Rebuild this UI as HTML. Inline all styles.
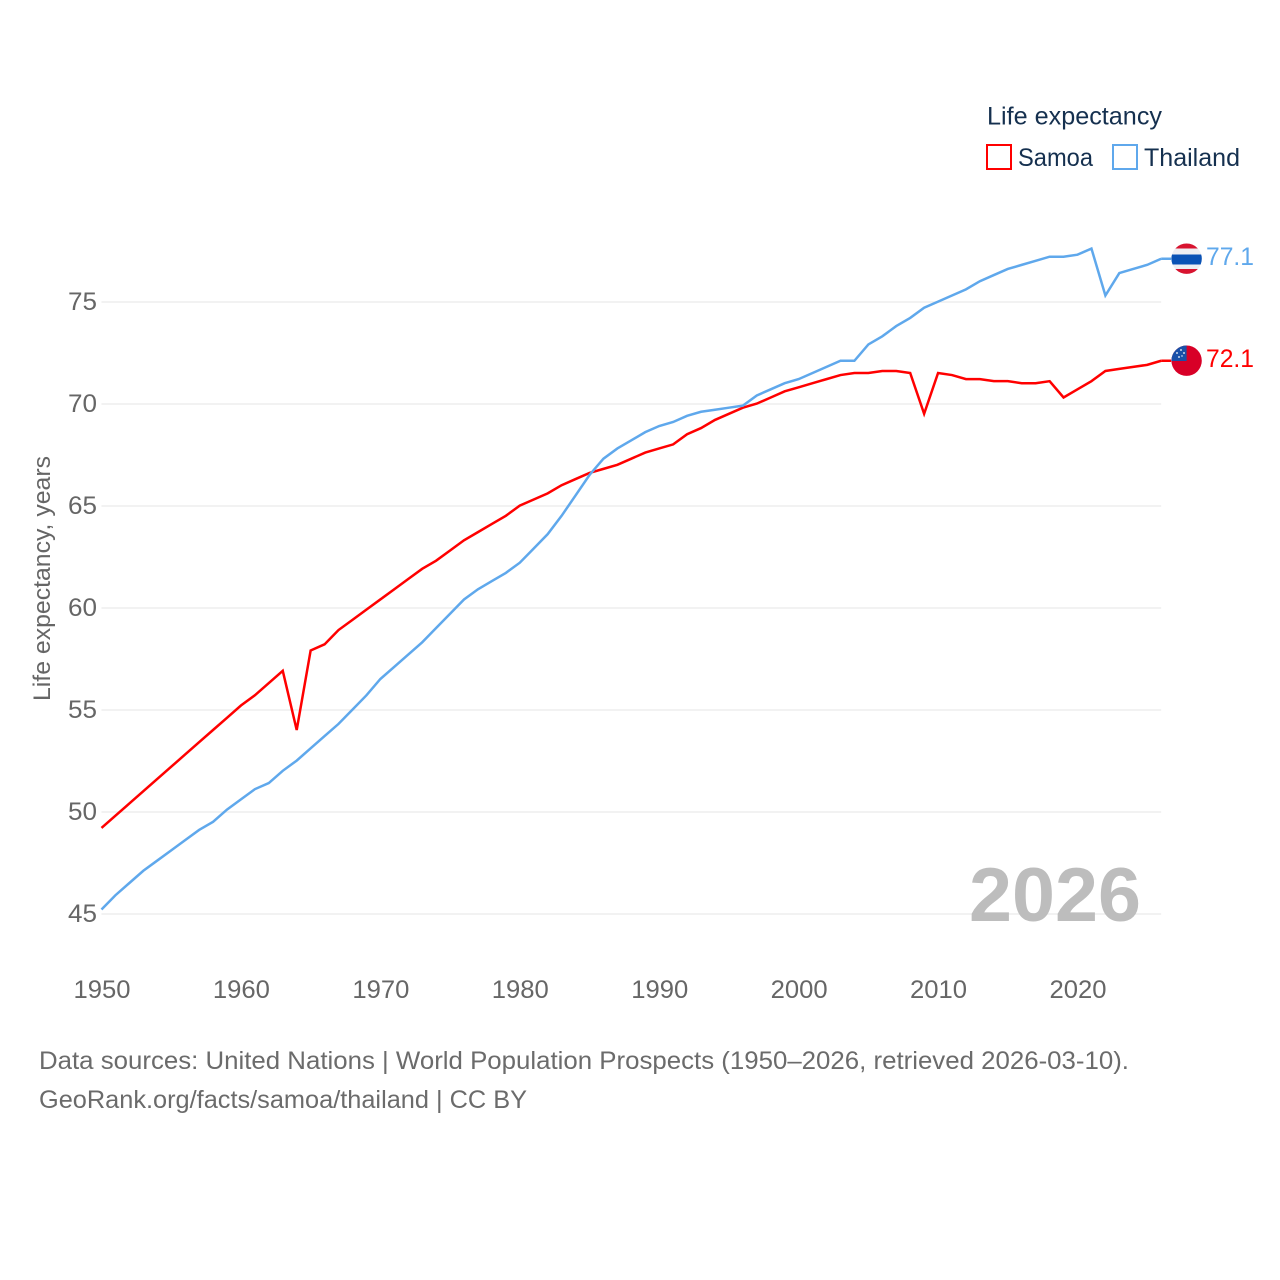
<!DOCTYPE html>
<html lang="en">
<head>
<meta charset="utf-8">
<title>Life expectancy: Samoa and Thailand</title>
<style>
html,body{margin:0;padding:0;background:#fff;width:1280px;height:1280px;overflow:hidden}
svg{display:block}
text{font-family:"Liberation Sans",sans-serif}
</style>
</head>
<body>
<svg id="chart" width="1280" height="1280" viewBox="0 0 1280 1280" xmlns="http://www.w3.org/2000/svg">
  <defs>
    <clipPath id="flag-clip-th"><circle cx="1186.6" cy="258.7" r="15.2"/></clipPath>
    <clipPath id="flag-clip-ws"><circle cx="1186.6" cy="360.7" r="15.2"/></clipPath>
  </defs>
  <rect width="1280" height="1280" fill="#fff"/>
  <g id="grid"></g>
  <g id="yticks"></g>
  <g id="xticks"></g>
  <text transform="translate(50,701) rotate(-90)" font-size="24" fill="#666" textLength="245" lengthAdjust="spacingAndGlyphs">Life expectancy, years</text>
  <text x="969" y="921" font-size="76" font-weight="700" fill="#bdbdbd" textLength="172" lengthAdjust="spacingAndGlyphs">2026</text>
  <polyline id="line-samoa" fill="none" stroke="#ff0000" stroke-width="2.5" stroke-linejoin="miter"/>
  <polyline id="line-thailand" fill="none" stroke="#5fa8ec" stroke-width="2.5" stroke-linejoin="miter"/>
  <line id="conn-samoa" stroke="#ff0000" stroke-width="2.5"/>
  <line id="conn-thailand" stroke="#5fa8ec" stroke-width="2.5"/>

  <g clip-path="url(#flag-clip-th)">
    <rect x="1170" y="243" width="34" height="32" fill="#eeeef2"/>
    <rect x="1170" y="243" width="34" height="5.5" fill="#d8132f"/>
    <rect x="1170" y="269" width="34" height="6" fill="#d8132f"/>
    <rect x="1170" y="254.5" width="34" height="10" fill="#0a52b5"/>
  </g>
  <g clip-path="url(#flag-clip-ws)">
    <rect x="1170" y="345" width="34" height="32" fill="#d80027"/>
    <rect x="1170" y="345" width="16.6" height="16" fill="#1a50a8"/>
    <circle cx="1181" cy="350" r="0.9" fill="#fff"/>
    <circle cx="1177" cy="353" r="0.9" fill="#fff"/>
    <circle cx="1184" cy="353" r="0.9" fill="#fff"/>
    <circle cx="1179" cy="357" r="0.9" fill="#fff"/>
    <circle cx="1182" cy="356" r="0.7" fill="#fff"/>
  </g>
  <text id="value-thailand" x="1206" y="265" font-size="25" fill="#5fa8ec" textLength="48" lengthAdjust="spacingAndGlyphs"></text>
  <text id="value-samoa" x="1206" y="367" font-size="25" fill="#ff0000" textLength="48" lengthAdjust="spacingAndGlyphs"></text>

  <g>
    <text x="987" y="124.5" font-size="25" fill="#15304f" textLength="175" lengthAdjust="spacingAndGlyphs">Life expectancy</text>
    <rect x="987" y="145" width="24" height="24" fill="none" stroke="#ff0000" stroke-width="2"/>
    <text x="1018" y="166" font-size="25" fill="#15304f" textLength="75" lengthAdjust="spacingAndGlyphs">Samoa</text>
    <rect x="1113" y="145" width="24" height="24" fill="none" stroke="#5fa8ec" stroke-width="2"/>
    <text x="1144" y="166" font-size="25" fill="#15304f" textLength="96" lengthAdjust="spacingAndGlyphs">Thailand</text>
  </g>

  <text x="39" y="1069" font-size="25" fill="#6b6b6b" textLength="1090" lengthAdjust="spacingAndGlyphs">Data sources: United Nations | World Population Prospects (1950–2026, retrieved 2026-03-10).</text>
  <text x="39" y="1108" font-size="25" fill="#6b6b6b" textLength="488" lengthAdjust="spacingAndGlyphs">GeoRank.org/facts/samoa/thailand | CC BY</text>
</svg>
<script>
const years = [1950,1951,1952,1953,1954,1955,1956,1957,1958,1959,1960,1961,1962,1963,1964,1965,1966,1967,1968,1969,1970,1971,1972,1973,1974,1975,1976,1977,1978,1979,1980,1981,1982,1983,1984,1985,1986,1987,1988,1989,1990,1991,1992,1993,1994,1995,1996,1997,1998,1999,2000,2001,2002,2003,2004,2005,2006,2007,2008,2009,2010,2011,2012,2013,2014,2015,2016,2017,2018,2019,2020,2021,2022,2023,2024,2025,2026];
const samoa = [49.2,49.8,50.4,51.0,51.6,52.2,52.8,53.4,54.0,54.6,55.2,55.7,56.3,56.9,54.0,57.9,58.2,58.9,59.4,59.9,60.4,60.9,61.4,61.9,62.3,62.8,63.3,63.7,64.1,64.5,65.0,65.3,65.6,66.0,66.3,66.6,66.8,67.0,67.3,67.6,67.8,68.0,68.5,68.8,69.2,69.5,69.8,70.0,70.3,70.6,70.8,71.0,71.2,71.4,71.5,71.5,71.6,71.6,71.5,69.5,71.5,71.4,71.2,71.2,71.1,71.1,71.0,71.0,71.1,70.3,70.7,71.1,71.6,71.7,71.8,71.9,72.1];
const thailand = [45.2,45.9,46.5,47.1,47.6,48.1,48.6,49.1,49.5,50.1,50.6,51.1,51.4,52.0,52.5,53.1,53.7,54.3,55.0,55.7,56.5,57.1,57.7,58.3,59.0,59.7,60.4,60.9,61.3,61.7,62.2,62.9,63.6,64.5,65.5,66.5,67.3,67.8,68.2,68.6,68.9,69.1,69.4,69.6,69.7,69.8,69.9,70.4,70.7,71.0,71.2,71.5,71.8,72.1,72.1,72.9,73.3,73.8,74.2,74.7,75.0,75.3,75.6,76.0,76.3,76.6,76.8,77.0,77.2,77.2,77.3,77.6,75.3,76.4,76.6,76.8,77.1];
const yTickValues = [45,50,55,60,65,70,75];
const xTickValues = [1950,1960,1970,1980,1990,2000,2010,2020];

const NS = 'http://www.w3.org/2000/svg';
function xScale(year){ return 101.5 + (year - 1950) * (976 / 70); }
function yScale(v){ return 914 - (v - 45) * (612 / 30); }
const xEnd = xScale(years[years.length - 1]);

const gridGroup = document.getElementById('grid');
const yGroup = document.getElementById('yticks');
const xGroup = document.getElementById('xticks');

yTickValues.forEach(function(v){
  const ln = document.createElementNS(NS, 'line');
  
  
  ln.setAttribute('x1', 101.5);
  ln.setAttribute('x2', xEnd);
  ln.setAttribute('y1', yScale(v));
  ln.setAttribute('y2', yScale(v));
  ln.setAttribute('stroke', '#ededed');
  ln.setAttribute('stroke-width', '1.5');
  gridGroup.appendChild(ln);
  const t = document.createElementNS(NS, 'text');
  
  
  t.setAttribute('x', 68);
  t.setAttribute('y', yScale(v) + 8);
  t.setAttribute('font-size', '25');
  t.setAttribute('fill', '#666');
  t.setAttribute('textLength', '29');
  t.setAttribute('lengthAdjust', 'spacingAndGlyphs');
  t.textContent = v;
  yGroup.appendChild(t);
});

xTickValues.forEach(function(yr){
  const t = document.createElementNS(NS, 'text');
  
  
  t.setAttribute('x', xScale(yr) - 28);
  t.setAttribute('y', 998);
  t.setAttribute('font-size', '25');
  t.setAttribute('fill', '#666');
  t.setAttribute('textLength', '57');
  t.setAttribute('lengthAdjust', 'spacingAndGlyphs');
  t.textContent = yr;
  xGroup.appendChild(t);
});

function drawSeries(id, connId, valueId, values){
  const pts = values.map(function(v, i){ return xScale(years[i]).toFixed(2) + ',' + (yScale(v) - 0.4).toFixed(2); });
  document.getElementById(id).setAttribute('points', pts.join(' '));
  const last = values[values.length - 1];
  const c = document.getElementById(connId);
  c.setAttribute('x1', xEnd);
  c.setAttribute('x2', xEnd + 10);
  c.setAttribute('y1', yScale(last) - 0.4);
  c.setAttribute('y2', yScale(last) - 0.4);
  const label = document.getElementById(valueId);
  label.textContent = last.toFixed(1);
}
drawSeries('line-samoa', 'conn-samoa', 'value-samoa', samoa);
drawSeries('line-thailand', 'conn-thailand', 'value-thailand', thailand);
</script>
</body>
</html>
